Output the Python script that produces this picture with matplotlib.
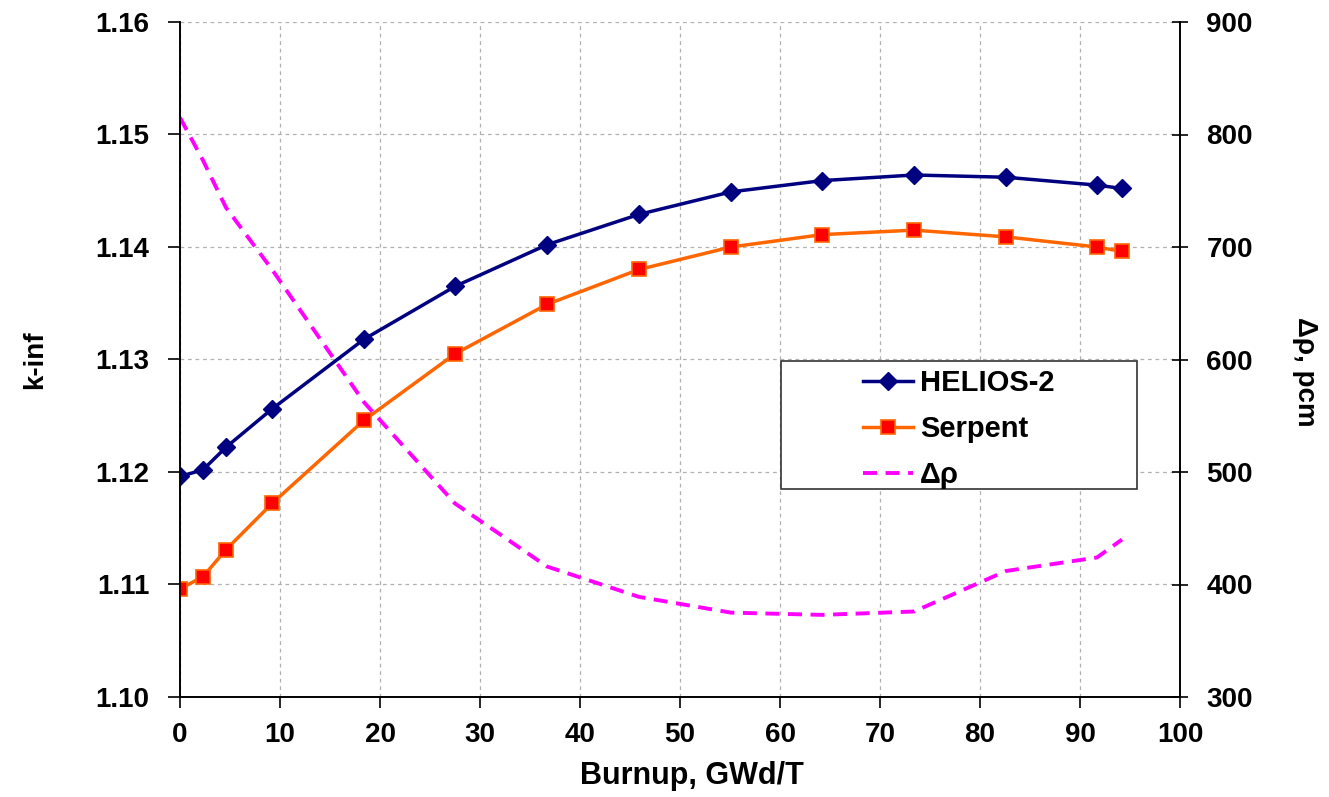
import matplotlib
matplotlib.use("Agg")
import matplotlib.pyplot as plt
from matplotlib.patches import Rectangle

plt.rcParams['font.family'] = ['Liberation Sans', 'DejaVu Sans']
plt.rcParams['font.weight'] = 'bold'

burnup = [0, 2.3, 4.6, 9.2, 18.4, 27.5, 36.7, 45.9, 55.1, 64.2, 73.4, 82.6, 91.7, 94.2]
helios = [1.1196, 1.1202, 1.1222, 1.1256, 1.1318, 1.1365, 1.1402, 1.1429, 1.1449,
          1.1459, 1.1464, 1.1462, 1.1455, 1.1452]
serpent = [1.1096, 1.1107, 1.1131, 1.1172, 1.1246, 1.1305, 1.1349, 1.1380, 1.1400,
           1.1411, 1.1415, 1.1409, 1.1400, 1.1396]
drho = [815, 777, 735, 680, 562, 472, 416, 389, 375, 373, 376, 412, 424, 440]

xticks = list(range(0, 101, 10))
kticks = [1.10, 1.11, 1.12, 1.13, 1.14, 1.15, 1.16]
rticks = [300, 400, 500, 600, 700, 800, 900]

FS = 20

fig = plt.figure(figsize=(13.29, 7.97), dpi=100)
ax = fig.add_axes([180/1329, 100/797, 1000/1329, 675/797])
ax2 = ax.twinx()

l1, = ax.plot(burnup, helios, color='#000080', lw=2.5, marker='D', ms=9,
              mfc='#000080', mec='#000080', label='HELIOS-2', zorder=3)
l2, = ax.plot(burnup, serpent, color='#FF6600', lw=2.5, marker='s', ms=10,
              mfc='#FF0000', mec='#FF6600', mew=1.2, label='Serpent', zorder=3)
l3, = ax2.plot(burnup, drho, color='#FF00FF', lw=2.8, ls=(0, (3.6, 2.2)),
               label='Δρ')

ax.set_xlim(0, 100)
ax.set_ylim(1.10, 1.16)
ax2.set_ylim(300, 900)
ax.set_xticks(xticks)
ax.set_yticks(kticks)
ax.set_yticklabels([f"{v:.2f}" for v in kticks])
ax2.set_yticks(rticks)

ax.grid(True, color='#b0b0b0', ls=(0, (3, 3)), lw=0.9)
ax.set_axisbelow(True)

for a in (ax, ax2):
    a.spines['top'].set_visible(False)
    for s in a.spines.values():
        s.set_linewidth(1.2)
ax.tick_params(axis='x', labelsize=FS, direction='out', length=8, width=1.2, pad=10)
ax.tick_params(axis='y', labelsize=FS, direction='out', length=9, width=1.2, pad=13)
ax2.tick_params(axis='y', labelsize=FS, direction='inout', length=12, width=1.2, pad=13)
for lab in ax.get_xticklabels() + ax.get_yticklabels() + ax2.get_yticklabels():
    lab.set_fontweight('bold')

fig.text(692/1329, 1 - 776/797, 'Burnup, GWd/T', fontsize=22, fontweight='bold',
         ha='center', va='center')
fig.text(35/1329, 1 - 360/797, 'k-inf', fontsize=FS, fontweight='bold',
         ha='center', va='center', rotation=90)
fig.text(1305/1329, 1 - 372/797, 'Δρ, pcm', fontsize=FS, fontweight='bold',
         ha='center', va='center', rotation=270)

# legend frame
ax.add_patch(Rectangle((0.601, 0.308), 0.356, 0.190, transform=ax.transAxes,
                       facecolor='white', edgecolor='#333333', lw=1.2, zorder=9,
                       clip_on=False))
leg = ax.legend(handles=[l1, l2, l3], loc='upper left', bbox_to_anchor=(0.683, 0.486),
                frameon=False, prop={'weight': 'bold', 'size': 21}, borderpad=0,
                handlelength=1.7, handletextpad=0.25, labelspacing=0.62,
                borderaxespad=0)
leg.set_zorder(10)

fig.savefig('out.png', dpi=100)
